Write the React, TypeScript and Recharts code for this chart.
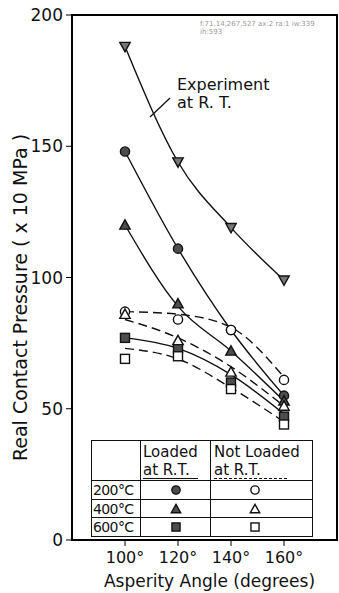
import { useEffect, useState } from "react";
import {
  ComposedChart,
  Line,
  XAxis,
  YAxis,
  ReferenceArea,
  Label,
} from "recharts";

const angles = [100, 120, 140, 160];
const yTicks = [0, 50, 100, 150, 200];

// measured points
const experiment = [188, 144, 119, 99];
const loaded200 = [148, 111, 80, 55];
const loaded400 = [120, 90, 72, 53];
const loaded600 = [77, 73, 60, 47];
const notLoaded200 = [87, 84, 80, 61];
const notLoaded400 = [86, 76, 64, 51];
const notLoaded600 = [69, 70, 57.5, 44];

// fitted curves as drawn
const experimentFit = [188, 144, 119, 99];
const loaded200Fit = [148, 111, 80, 55];
const loaded400Fit = [120, 89, 72, 53];
const loaded600Fit = [77, 73, 63, 48];
const notLoaded200Fit = [87, 86, 81, 62];
const notLoaded400Fit = [84, 77, 66, 51];
const notLoaded600Fit = [73, 69, 58, 45];

const temps = ["200°C", "400°C", "600°C"];
const kinds = ["circle", "triangle", "square"];

const toPoints = (vals: number[]) => angles.map((x, i) => ({ x, y: vals[i] }));

const FONT = "DejaVu Sans";
const INK = "#111";

const W = 339;
const H = 593;
const M = { top: 15, right: 2, bottom: 0, left: 0 };
const Y_W = 72;
const X_H = 53;
const X_DOMAIN = [80, 180];
const Y_DOMAIN = [0, 200];
const plotBox = {
  left: M.left + Y_W,
  right: W - M.right,
  top: M.top,
  bottom: H - M.bottom - X_H,
};

function Marker({ cx, cy, kind, filled, s = 1 }: any) {
  const fill = filled ? "#4d4d4d" : "#fff";
  const sw = 1.4;
  if (kind === "circle") {
    return <circle cx={cx} cy={cy} r={4.6 * s} fill={fill} stroke={INK} strokeWidth={sw} />;
  }
  if (kind === "square") {
    const h = 4.5 * s;
    return <rect x={cx - h} y={cy - h} width={2 * h} height={2 * h} fill={fill} stroke={INK} strokeWidth={sw} />;
  }
  if (kind === "triangle") {
    const h = 5.2 * s;
    return (
      <polygon
        points={`${cx},${cy - h} ${cx + h},${cy + h * 0.8} ${cx - h},${cy + h * 0.8}`}
        fill={fill}
        stroke={INK}
        strokeWidth={sw}
      />
    );
  }
  const h = 5.2 * s;
  return (
    <polygon
      points={`${cx - h},${cy - h * 0.8} ${cx + h},${cy - h * 0.8} ${cx},${cy + h}`}
      fill="#777"
      stroke={INK}
      strokeWidth={sw}
    />
  );
}

function SmallMarker({ kind, filled }: any) {
  return (
    <svg width={12} height={12} style={{ display: "block", margin: "0 auto" }}>
      <Marker cx={6} cy={6} kind={kind} filled={filled} s={0.9} />
    </svg>
  );
}

const cell: any = {
  border: `1.5px solid ${INK}`,
  padding: 0,
  verticalAlign: "middle",
};

function LegendTable() {
  return (
    <table
      style={{
        position: "absolute",
        left: 91,
        top: 440,
        width: 221,
        height: 96,
        borderCollapse: "collapse",
        tableLayout: "fixed",
        background: "#fff",
        fontFamily: FONT,
        color: INK,
      }}
    >
      <colgroup>
        <col style={{ width: 49 }} />
        <col style={{ width: 70 }} />
        <col style={{ width: 102 }} />
      </colgroup>
      <tbody>
        <tr style={{ height: 40 }}>
          <td style={cell}></td>
          <td style={{ ...cell, fontSize: 15, lineHeight: "18px", paddingLeft: 2 }}>
            <div>Loaded</div>
            <div style={{ display: "inline-block", lineHeight: "16px", borderBottom: `1.5px solid ${INK}`, paddingRight: 8 }}>at R.T.</div>
          </td>
          <td style={{ ...cell, fontSize: 15, lineHeight: "18px", paddingLeft: 3 }}>
            <div>Not Loaded</div>
            <div style={{ display: "inline-block", lineHeight: "16px", borderBottom: `1.5px dashed ${INK}`, paddingRight: 26 }}>at R.T.</div>
          </td>
        </tr>
        {temps.map((t, i) => (
          <tr key={t} style={{ height: 18.7 }}>
            <td style={{ ...cell, fontSize: 14, letterSpacing: -0.6, paddingLeft: 1 }}>{t}</td>
            <td style={cell}>
              <SmallMarker kind={kinds[i]} filled />
            </td>
            <td style={{ ...cell, paddingRight: 14 }}>
              <SmallMarker kind={kinds[i]} filled={false} />
            </td>
          </tr>
        ))}
      </tbody>
    </table>
  );
}

const solid = { stroke: INK, strokeWidth: 1.4 };
const dashed = { stroke: INK, strokeWidth: 1.4, strokeDasharray: "9 5" };

export default function App() {
  const [dbg, setDbg] = useState("");
  useEffect(() => {
    const t = setTimeout(() => {
      const fr = document.getElementById("frame-box");
      const r = fr ? fr.getBoundingClientRect() : null;
      const ax = document.querySelectorAll(".recharts-cartesian-axis-line").length;
      const ra = document.querySelectorAll(".recharts-reference-area").length;
      setDbg(
        `f:${r ? [r.left, r.top, r.width, r.height].map((v) => Math.round(v)).join(",") : "none"} ax:${ax} ra:${ra} iw:${window.innerWidth} ih:${window.innerHeight}`
      );
    }, 200);
    return () => clearTimeout(t);
  }, []);

  const series = [
    { fit: experimentFit, pts: experiment, kind: "down", filled: true, dash: false },
    { fit: loaded200Fit, pts: loaded200, kind: "circle", filled: true, dash: false },
    { fit: loaded400Fit, pts: loaded400, kind: "triangle", filled: true, dash: false },
    { fit: loaded600Fit, pts: loaded600, kind: "square", filled: true, dash: false },
    { fit: notLoaded200Fit, pts: notLoaded200, kind: "circle", filled: false, dash: true },
    { fit: notLoaded400Fit, pts: notLoaded400, kind: "triangle", filled: false, dash: true },
    { fit: notLoaded600Fit, pts: notLoaded600, kind: "square", filled: false, dash: true },
  ];

  return (
    <div style={{ position: "absolute", left: 0, top: 0, width: W, height: H }}>
      <ComposedChart width={W} height={H} margin={M}>
        <XAxis
          dataKey="x"
          type="number"
          domain={X_DOMAIN}
          ticks={angles}
          height={X_H}
          stroke="#000"
          tickFormatter={(v) => `${v}°`}
          tick={{ fontSize: 16, fill: INK, fontFamily: FONT }}
          tickMargin={6}
        >
          <Label
            content={(p: any) => (
              <text
                x={p.viewBox.x + p.viewBox.width / 2 + 5}
                y={587}
                textAnchor="middle"
                fontSize={17}
                fontFamily={FONT}
                fill={INK}
              >
                Asperity Angle (degrees)
              </text>
            )}
          />
        </XAxis>
        <YAxis
          type="number"
          domain={Y_DOMAIN}
          ticks={yTicks}
          width={Y_W}
          stroke="#000"
          tick={{ fontSize: 17, fill: INK, fontFamily: FONT }}
          tickMargin={3}
        >
          <Label
            content={(p: any) => {
              const x = 20;
              const y = p.viewBox.y + p.viewBox.height / 2 + 20;
              return (
                <text
                  x={x}
                  y={y}
                  transform={`rotate(-90 ${x} ${y})`}
                  textAnchor="middle"
                  dominantBaseline="central"
                  fontSize={19}
                  fontFamily={FONT}
                  fill={INK}
                >
                  Real Contact Pressure ( x 10 MPa )
                </text>
              );
            }}
          />
        </YAxis>
        <ReferenceArea x1={80} x2={180} y1={0} y2={200} fill="none" stroke="#000" strokeWidth={1.5} />
        {series.map((s, i) => (
          <Line
            key={`l${i}`}
            data={toPoints(s.fit)}
            dataKey="y"
            type="monotone"
            dot={false}
            activeDot={false}
            {...(s.dash ? dashed : solid)}
            isAnimationActive={false}
          />
        ))}
        {series.map((s, i) => (
          <Line
            key={`p${i}`}
            data={toPoints(s.pts)}
            dataKey="y"
            stroke="none"
            activeDot={false}
            dot={(p: any) => (
              <Marker key={`m${i}-${p.index}`} cx={p.cx} cy={p.cy} kind={s.kind} filled={s.filled} />
            )}
            isAnimationActive={false}
          />
        ))}
      </ComposedChart>
      <svg
        width={W}
        height={H}
        style={{ position: "absolute", left: 0, top: 0, pointerEvents: "none" }}
      >
        <text x={177} y={90} fontSize={16} fontFamily={FONT} fill={INK}>
          Experiment
        </text>
        <text x={177} y={108} fontSize={16} fontFamily={FONT} fill={INK}>
          at R. T.
        </text>
        <line x1={170} y1={98} x2={150} y2={117} stroke={INK} strokeWidth={1.3} />
      </svg>
      <div
        id="frame-box"
        style={{
          position: "absolute",
          left: plotBox.left - 1,
          top: plotBox.top - 1,
          width: plotBox.right - plotBox.left + 2,
          height: plotBox.bottom - plotBox.top + 2,
          border: "2px solid #000",
          boxSizing: "border-box",
          pointerEvents: "none",
        }}
      />
      <LegendTable />
      <div style={{ position: "absolute", left: 200, top: 20, fontSize: 7, color: "#999", fontFamily: FONT, width: 130 }}>
        {dbg}
      </div>
    </div>
  );
}
